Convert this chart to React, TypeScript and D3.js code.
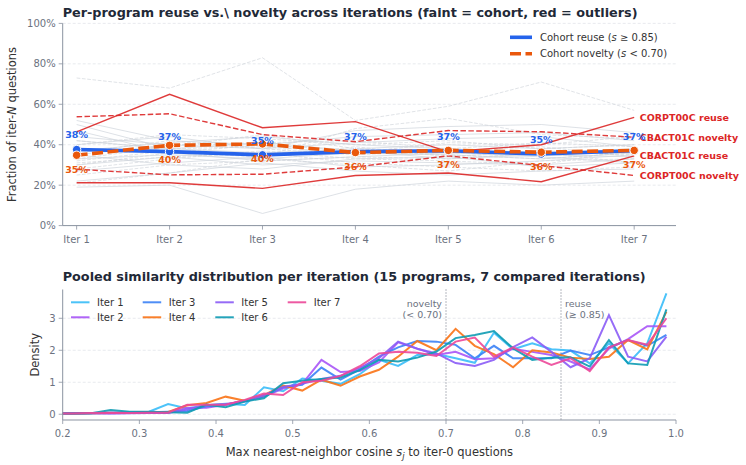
import React from "react";
import * as d3 from "d3";

// ---------- Top panel: per-program reuse / novelty fractions ----------
const ITERATIONS = [1, 2, 3, 4, 5, 6, 7];
const ITER_LABELS = ["Iter 1", "Iter 2", "Iter 3", "Iter 4", "Iter 5", "Iter 6", "Iter 7"];
const PCT_TICKS = [0, 0.2, 0.4, 0.6, 0.8, 1.0];

const cohortReuse = [0.376, 0.366, 0.35, 0.366, 0.37, 0.354, 0.37];
const cohortNovelty = [0.348, 0.397, 0.404, 0.361, 0.372, 0.363, 0.372];

const corpt00cReuse = [0.464, 0.649, 0.484, 0.514, 0.365, 0.4, 0.535];
const corpt00cNovelty = [0.279, 0.251, 0.254, 0.29, 0.345, 0.297, 0.248];
const cbact01cReuse = [0.212, 0.212, 0.184, 0.248, 0.26, 0.217, 0.345];
const cbact01cNovelty = [0.538, 0.553, 0.45, 0.415, 0.47, 0.464, 0.437];

// remaining programs (faint cohort traces)
const faintReuse = [
  [0.52, 0.42, 0.4, 0.44, 0.45, 0.46, 0.42],
  [0.5, 0.38, 0.36, 0.38, 0.4, 0.38, 0.4],
  [0.19, 0.2, 0.06, 0.18, 0.22, 0.2, 0.22],
  [0.33, 0.35, 0.33, 0.36, 0.35, 0.33, 0.36],
  [0.44, 0.4, 0.38, 0.41, 0.43, 0.44, 0.39],
  [0.3, 0.34, 0.3, 0.32, 0.31, 0.3, 0.33],
  [0.37, 0.41, 0.44, 0.4, 0.38, 0.36, 0.38],
  [0.47, 0.36, 0.32, 0.34, 0.36, 0.34, 0.31],
  [0.27, 0.31, 0.34, 0.29, 0.3, 0.32, 0.35],
  [0.4, 0.44, 0.38, 0.47, 0.49, 0.5, 0.46],
  [0.35, 0.3, 0.28, 0.33, 0.34, 0.29, 0.31],
  [0.22, 0.26, 0.31, 0.27, 0.25, 0.27, 0.28],
  [0.42, 0.38, 0.41, 0.37, 0.33, 0.35, 0.34],
];
const faintNovelty = [
  [0.73, 0.68, 0.83, 0.52, 0.59, 0.71, 0.57],
  [0.3, 0.36, 0.4, 0.37, 0.35, 0.33, 0.36],
  [0.36, 0.42, 0.38, 0.35, 0.37, 0.39, 0.34],
  [0.28, 0.33, 0.37, 0.33, 0.32, 0.3, 0.38],
  [0.4, 0.45, 0.43, 0.4, 0.42, 0.38, 0.4],
  [0.33, 0.39, 0.45, 0.38, 0.36, 0.35, 0.37],
  [0.25, 0.3, 0.32, 0.34, 0.33, 0.36, 0.31],
  [0.38, 0.36, 0.34, 0.48, 0.53, 0.45, 0.43],
  [0.31, 0.34, 0.36, 0.31, 0.29, 0.27, 0.29],
  [0.35, 0.4, 0.41, 0.42, 0.38, 0.41, 0.39],
  [0.21, 0.26, 0.33, 0.3, 0.27, 0.32, 0.33],
  [0.42, 0.38, 0.39, 0.36, 0.41, 0.4, 0.44],
  [0.32, 0.37, 0.34, 0.39, 0.34, 0.37, 0.35],
];

const outliers = [
  { name: "CORPT00C reuse", values: corpt00cReuse, dashed: false },
  { name: "CBACT01C novelty", values: cbact01cNovelty, dashed: true },
  { name: "CBACT01C reuse", values: cbact01cReuse, dashed: false },
  { name: "CORPT00C novelty", values: corpt00cNovelty, dashed: true },
];

// ---------- Bottom panel: pooled similarity histograms ----------
const BIN_CENTERS = [
  0.1875, 0.2125, 0.2375, 0.2625, 0.2875, 0.3125, 0.3375, 0.3625, 0.3875, 0.4125, 0.4375,
  0.4625, 0.4875, 0.5125, 0.5375, 0.5625, 0.5875, 0.6125, 0.6375, 0.6625, 0.6875, 0.7125,
  0.7375, 0.7625, 0.7875, 0.8125, 0.8375, 0.8625, 0.8875, 0.9125, 0.9375, 0.9625, 0.9875,
];
const SIM_TICKS = [0.2, 0.3, 0.4, 0.5, 0.6, 0.7, 0.8, 0.9, 1.0];
const DENSITY_TICKS = [0, 1, 2, 3];

const densIter1 = [0.02, 0.02, 0.03, 0.05, 0.06, 0.08, 0.32, 0.18, 0.28, 0.33, 0.29, 0.84, 0.72, 1.12, 1.05, 0.95, 1.25, 1.7, 1.51, 1.85, 1.88, 1.75, 1.61, 2.55, 2.03, 2.22, 2.03, 1.99, 1.59, 2.22, 1.59, 2.22, 3.78];
const densIter2 = [0.03, 0.03, 0.04, 0.03, 0.04, 0.05, 0.05, 0.2, 0.2, 0.3, 0.42, 0.55, 0.8, 0.95, 1.7, 1.32, 1.35, 1.62, 2.25, 2.05, 1.85, 1.95, 1.72, 1.75, 2.05, 1.95, 1.85, 1.65, 1.4, 2.05, 2.35, 2.75, 2.75];
const densIter3 = [0.02, 0.02, 0.04, 0.05, 0.05, 0.06, 0.08, 0.1, 0.25, 0.3, 0.42, 0.55, 0.85, 0.92, 1.46, 1.08, 1.4, 1.8, 2.09, 2.29, 2.27, 2.17, 1.75, 2.14, 1.75, 1.75, 1.75, 1.99, 1.85, 2.09, 2.32, 2.14, 2.48];
const densIter4 = [0.02, 0.02, 0.03, 0.04, 0.04, 0.06, 0.07, 0.28, 0.35, 0.55, 0.42, 0.6, 0.9, 0.74, 1.08, 0.89, 1.18, 1.39, 1.8, 2.29, 2.0, 2.67, 2.14, 1.88, 1.47, 2.0, 1.93, 1.77, 1.73, 1.8, 2.32, 2.03, 3.2];
const densIter5 = [0.02, 0.03, 0.03, 0.02, 0.03, 0.04, 0.04, 0.15, 0.28, 0.32, 0.4, 0.6, 0.85, 0.95, 1.1, 1.2, 1.45, 1.75, 2.27, 2.05, 1.9, 1.6, 1.51, 1.7, 2.1, 2.4, 1.95, 1.47, 1.75, 3.1, 1.8, 1.65, 2.43];
const densIter6 = [0.02, 0.02, 0.03, 0.13, 0.08, 0.08, 0.06, 0.05, 0.3, 0.22, 0.4, 0.5, 0.97, 1.05, 1.1, 1.15, 1.38, 1.7, 1.65, 1.77, 1.96, 2.38, 2.48, 2.6, 2.06, 1.7, 1.77, 1.78, 1.49, 2.32, 1.59, 1.54, 3.28];
const densIter7 = [0.02, 0.02, 0.04, 0.05, 0.04, 0.05, 0.05, 0.3, 0.3, 0.3, 0.45, 0.65, 0.6, 1.0, 1.05, 1.2, 1.5, 1.9, 1.95, 1.92, 1.82, 2.27, 2.4, 1.8, 2.09, 1.8, 1.54, 1.75, 1.35, 2.09, 2.32, 2.17, 3.0];

const densitySeries = [
  { label: "Iter 1", values: densIter1, color: "#38bdf8" },
  { label: "Iter 2", values: densIter2, color: "#a855f7" },
  { label: "Iter 3", values: densIter3, color: "#3b82f6" },
  { label: "Iter 4", values: densIter4, color: "#f97316" },
  { label: "Iter 5", values: densIter5, color: "#8b5cf6" },
  { label: "Iter 6", values: densIter6, color: "#0e9bb3" },
  { label: "Iter 7", values: densIter7, color: "#ec4899" },
];

const FONT = "DejaVu Sans, sans-serif";
const TICK_COLOR = "#6b7280";
const SPINE = "#8b93a1";
const GRID = "#e2e5ea";
const TEXT = "#1f2937";
const RED = "#dc2626";
const BLUE = "#2563eb";
const ORANGE = "#ea580c";

export default function App() {
  const W = 746;
  const H = 465;
  const left = 62.7;
  const right = 676;

  // top panel scales
  const xTop = d3.scaleLinear().domain([0.85, 7.45]).range([left, right]);
  const yTop = d3.scaleLinear().domain([0, 1]).range([225.6, 23.4]);
  const lineTop = d3
    .line<number>()
    .x((_, i) => xTop(ITERATIONS[i]))
    .y((v) => yTop(v));

  // bottom panel scales
  const xBot = d3.scaleLinear().domain([0.2, 1.0]).range([left, right]);
  const yBot = d3.scaleLinear().domain([-0.18, 3.9]).range([420, 289.5]);
  const lineBot = d3
    .line<number>()
    .x((_, i) => xBot(BIN_CENTERS[i]))
    .y((v) => yBot(v));

  const topBottom = yTop(0);
  const botBottom = yBot.range()[0];
  const botTop = yBot.range()[1];

  return (
    <svg width={W} height={H} style={{ display: "block", position: "absolute", left: 0, top: 0 }} fontFamily={FONT}>
      <rect width={W} height={H} fill="#ffffff" />
      <defs>
        <clipPath id="botClip">
          <rect x={left} y={botTop} width={right - left} height={botBottom - botTop} />
        </clipPath>
      </defs>

      {/* ===== Top panel ===== */}
      <text x={left} y={17} fontSize={12.8} fontWeight="bold" fill={TEXT}>
        Per-program reuse vs.\ novelty across iterations (faint = cohort, red = outliers)
      </text>

      {PCT_TICKS.map((t) => (
        <g key={`yg${t}`}>
          <line x1={left} x2={right} y1={yTop(t)} y2={yTop(t)} stroke={GRID} strokeWidth={0.8} strokeDasharray="3 2" />
          <line x1={left - 4} x2={left} y1={yTop(t)} y2={yTop(t)} stroke={SPINE} strokeWidth={0.8} />
          <text x={left - 7} y={yTop(t)} dy="0.35em" textAnchor="end" fontSize={10} fill={TICK_COLOR}>
            {`${Math.round(t * 100)}%`}
          </text>
        </g>
      ))}

      {/* faint cohort traces */}
      {faintReuse.map((s, k) => (
        <path key={`fr${k}`} d={lineTop(s) ?? ""} fill="none" stroke="#cdd2d9" strokeWidth={0.9} opacity={0.75} />
      ))}
      {faintNovelty.map((s, k) => (
        <path key={`fn${k}`} d={lineTop(s) ?? ""} fill="none" stroke="#cdd2d9" strokeWidth={0.9} strokeDasharray="3.7 1.6" opacity={0.7} />
      ))}

      {/* outlier programs */}
      {outliers.map((o) => (
        <g key={o.name}>
          <path
            d={lineTop(o.values) ?? ""}
            fill="none"
            stroke={RED}
            strokeWidth={1.4}
            strokeDasharray={o.dashed ? "5.5 2.4" : undefined}
            opacity={0.9}
          />
          <text
            x={xTop(7) + 5.5}
            y={yTop(o.values[6])}
            dy="0.35em"
            fontSize={9.5}
            fontWeight="bold"
            fill={RED}
          >
            {o.name}
          </text>
        </g>
      ))}

      {/* cohort means */}
      <path d={lineTop(cohortReuse) ?? ""} fill="none" stroke={BLUE} strokeWidth={3.6} />
      {cohortReuse.map((v, i) => (
        <circle key={`rc${i}`} cx={xTop(ITERATIONS[i])} cy={yTop(v)} r={4.2} fill={BLUE} stroke="#fff" strokeWidth={1} />
      ))}
      <path d={lineTop(cohortNovelty) ?? ""} fill="none" stroke={ORANGE} strokeWidth={3.6} strokeDasharray="11 4.5" />
      {cohortNovelty.map((v, i) => (
        <circle key={`nc${i}`} cx={xTop(ITERATIONS[i])} cy={yTop(v)} r={4.2} fill={ORANGE} stroke="#fff" strokeWidth={1} />
      ))}
      {cohortReuse.map((v, i) => (
        <text key={`rl${i}`} x={xTop(ITERATIONS[i])} y={yTop(v) - 14.5} dy="0.35em" textAnchor="middle" fontSize={9.5} fontWeight="bold" fill={BLUE}>
          {`${Math.round(v * 100)}%`}
        </text>
      ))}
      {cohortNovelty.map((v, i) => (
        <text key={`nl${i}`} x={xTop(ITERATIONS[i])} y={yTop(v) + 14.5} dy="0.35em" textAnchor="middle" fontSize={9.5} fontWeight="bold" fill={ORANGE}>
          {`${Math.round(v * 100)}%`}
        </text>
      ))}

      {/* axes */}
      <line x1={left} x2={left} y1={yTop(1)} y2={topBottom} stroke={SPINE} strokeWidth={1} />
      <line x1={left} x2={right} y1={topBottom} y2={topBottom} stroke={SPINE} strokeWidth={1} />
      {ITERATIONS.map((it, i) => (
        <g key={`xt${it}`}>
          <line x1={xTop(it)} x2={xTop(it)} y1={topBottom} y2={topBottom + 4} stroke={SPINE} strokeWidth={0.8} />
          <text x={xTop(it)} y={topBottom + 17} textAnchor="middle" fontSize={10} fill={TICK_COLOR}>
            {ITER_LABELS[i]}
          </text>
        </g>
      ))}
      <text transform={`translate(16, ${(yTop(1) + topBottom) / 2}) rotate(-90)`} textAnchor="middle" fontSize={11.5} fill="#333">
        Fraction of iter-<tspan fontStyle="italic">N</tspan> questions
      </text>

      {/* legend */}
      <g>
        <line x1={510} x2={532} y1={37.3} y2={37.3} stroke={BLUE} strokeWidth={3.6} />
        <text x={540} y={37.3} dy="0.35em" fontSize={10} fill="#333">
          Cohort reuse (<tspan fontStyle="italic">s</tspan> ≥ 0.85)
        </text>
        <line x1={510} x2={532} y1={53.7} y2={53.7} stroke={ORANGE} strokeWidth={3.6} strokeDasharray="11 4.5" />
        <text x={540} y={53.7} dy="0.35em" fontSize={10} fill="#333">
          Cohort novelty (<tspan fontStyle="italic">s</tspan> &lt; 0.70)
        </text>
      </g>

      {/* ===== Bottom panel ===== */}
      <text x={left} y={281} fontSize={12.8} fontWeight="bold" fill={TEXT}>
        Pooled similarity distribution per iteration (15 programs, 7 compared iterations)
      </text>

      {DENSITY_TICKS.map((t) => (
        <g key={`dg${t}`}>
          <line x1={left} x2={right} y1={yBot(t)} y2={yBot(t)} stroke={GRID} strokeWidth={0.8} strokeDasharray="3 2" />
          <line x1={left - 4} x2={left} y1={yBot(t)} y2={yBot(t)} stroke={SPINE} strokeWidth={0.8} />
          <text x={left - 7} y={yBot(t)} dy="0.35em" textAnchor="end" fontSize={10} fill={TICK_COLOR}>
            {t}
          </text>
        </g>
      ))}

      {/* thresholds */}
      <line x1={xBot(0.7)} x2={xBot(0.7)} y1={botTop} y2={botBottom} stroke="#6b7280" strokeWidth={1} strokeDasharray="1 2" />
      <line x1={xBot(0.85)} x2={xBot(0.85)} y1={botTop} y2={botBottom} stroke="#6b7280" strokeWidth={1} strokeDasharray="1 2" />
      <text x={xBot(0.7) - 4} y={303.7} dy="0.35em" textAnchor="end" fontSize={9.5} fill={TICK_COLOR}>novelty</text>
      <text x={xBot(0.7) - 4} y={314.5} dy="0.35em" textAnchor="end" fontSize={9.5} fill={TICK_COLOR}>(&lt; 0.70)</text>
      <text x={xBot(0.85) + 4} y={303.7} dy="0.35em" fontSize={9.5} fill={TICK_COLOR}>reuse</text>
      <text x={xBot(0.85) + 4} y={314.5} dy="0.35em" fontSize={9.5} fill={TICK_COLOR}>(≥  0.85)</text>

      <g clipPath="url(#botClip)">
        {densitySeries.map((s) => (
          <path key={s.label} d={lineBot(s.values) ?? ""} fill="none" stroke={s.color} strokeWidth={2} opacity={0.9} strokeLinejoin="miter" />
        ))}
      </g>

      {/* axes */}
      <line x1={left} x2={left} y1={botTop} y2={botBottom} stroke={SPINE} strokeWidth={1} />
      <line x1={left} x2={right} y1={botBottom} y2={botBottom} stroke={SPINE} strokeWidth={1} />
      {SIM_TICKS.map((t) => (
        <g key={`st${t}`}>
          <line x1={xBot(t)} x2={xBot(t)} y1={botBottom} y2={botBottom + 4} stroke={SPINE} strokeWidth={0.8} />
          <text x={xBot(t)} y={botBottom + 17} textAnchor="middle" fontSize={10} fill={TICK_COLOR}>
            {t.toFixed(1)}
          </text>
        </g>
      ))}
      <text transform={`translate(38.5, ${(botTop + botBottom) / 2}) rotate(-90)`} textAnchor="middle" fontSize={11.5} fill="#333">
        Density
      </text>
      <text x={(left + right) / 2} y={456} textAnchor="middle" fontSize={11.5} fill="#333">
        Max nearest-neighbor cosine <tspan fontStyle="italic">s</tspan>
        <tspan fontStyle="italic" fontSize={8.5} dy={3}>j</tspan>
        <tspan dy={-3}> to iter-0 questions</tspan>
      </text>

      {/* legend */}
      {densitySeries.map((s, i) => {
        const col = Math.floor(i / 2);
        const row = i % 2;
        const colX = [71, 142.7, 215.3, 287.7][col];
        const y = 302.3 + row * 15;
        return (
          <g key={`lg${s.label}`}>
            <line x1={colX} x2={colX + 18.5} y1={y} y2={y} stroke={s.color} strokeWidth={2} opacity={0.9} />
            <text x={colX + 26} y={y} dy="0.35em" fontSize={10} fill="#333">
              {s.label}
            </text>
          </g>
        );
      })}
    </svg>
  );
}
